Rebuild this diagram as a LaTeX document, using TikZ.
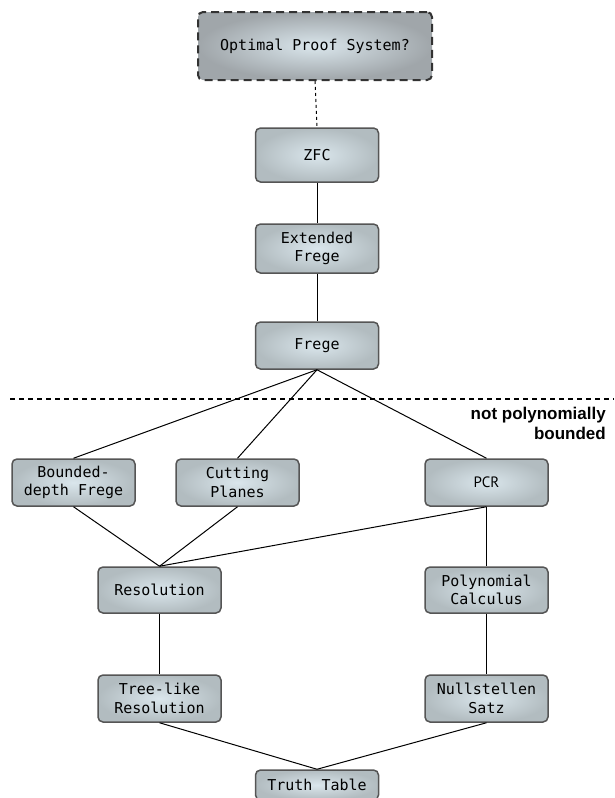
\documentclass[tikz,border=0pt]{standalone}
\usepackage{fontspec}
\setmonofont{DejaVu Sans Mono}
\newfontfamily\policepcr{PT Sans}
\newfontfamily\policenote{Liberation Sans}
\definecolor{bord}{RGB}{85,85,85}
\definecolor{centre}{RGB}{218,230,236}
\definecolor{tour}{RGB}{178,188,192}
\definecolor{tourfonce}{RGB}{160,166,170}
\begin{document}
\begin{tikzpicture}[x=1pt,y=-1pt]
		\tikzstyle{boite}=[draw=bord,line width=1.5pt,rounded corners=5pt,inner color=centre,outer color=tour,minimum width=123pt,minimum height=47pt,inner sep=0pt,align=center,font=\ttfamily\fontsize{15}{18.5}\selectfont]
		\tikzstyle{question}=[boite,draw=black!80,line width=2pt,dash pattern=on 8pt off 5pt,outer color=tourfonce,minimum width=234pt,minimum height=68pt]
		\tikzstyle{lien}=[line width=1pt]
		\tikzstyle{pointille}=[line width=1.5pt,dash pattern=on 5pt off 4pt]
		\tikzstyle{note}=[anchor=north east,align=right,inner sep=0pt,font=\policenote\bfseries\fontsize{17}{20}\selectfont]
		
		\def\ColonneA{73.5}
		\def\ColonneB{159.5}
		\def\ColonneC{237.5}
		\def\ColonneD{317}
		\def\ColonneE{486.5}
		
		\def\NiveauA{46}
		\def\NiveauB{155}
		\def\NiveauC{248.5}
		\def\NiveauD{345.5}
		\def\NiveauE{482.5}
		\def\NiveauF{590}
		\def\NiveauG{698.5}
		\def\NiveauH{785}
		
		\useasboundingbox (0,0) rectangle (614,798);
		
		\node[question] (Opt) at (315,\NiveauA) {Optimal Proof System?};
		\node[boite,minimum height=54pt] (Zfc) at (\ColonneD,\NiveauB) {ZFC};
		\node[boite,minimum height=49pt] (EFrege) at (\ColonneD,\NiveauC) {Extended\\Frege};
		\node[boite] (Frege) at (\ColonneD,\NiveauD) {Frege};
		\node[boite] (BdFrege) at (\ColonneA,\NiveauE) {Bounded-\\depth Frege};
		\node[boite] (CP) at (\ColonneC,\NiveauE) {Cutting\\Planes};
		\node[boite,font=\policepcr\fontsize{15}{18.5}\selectfont] (Pcr) at (\ColonneE,\NiveauE) {PCR};
		\node[boite,minimum height=46pt] (Res) at (\ColonneB,\NiveauF) {Resolution};
		\node[boite,minimum height=46pt] (PC) at (\ColonneE,\NiveauF) {Polynomial\\Calculus};
		\node[boite] (TRes) at (\ColonneB,\NiveauG) {Tree-like\\Resolution};
		\node[boite] (NS) at (\ColonneE,\NiveauG) {Nullstellen\\Satz};
		\node[boite,minimum height=30pt] (TT) at (\ColonneD,\NiveauH) {Truth Table};
		
		% frontiere
		\coordinate (FrontG) at (10,399);
		\coordinate (FrontD) at (614,399);
		\draw[pointille] (FrontG)--(FrontD);
		\node[note] (Borne) at (606,407) {not polynomially\\bounded};
		
		\draw[lien,dashed] (Opt.south)--(Zfc.north);
		\draw[lien] (Zfc)--(EFrege);
		\draw[lien] (EFrege)--(Frege);
		\draw[lien] (Frege.south)--(BdFrege.north);
		\draw[lien] (Frege.south)--(CP.north);
		\draw[lien] (Frege.south)--(Pcr.north);
		\draw[lien] (BdFrege.south)--(Res.north);
		\draw[lien] (CP.south)--(Res.north);
		\draw[lien] (Pcr.south)--(Res.north);
		\draw[lien] (Pcr.south)--(PC.north);
		\draw[lien] (Res)--(TRes);
		\draw[lien] (PC)--(NS);
		\draw[lien] (TRes.south)--(TT.north);
		\draw[lien] (NS.south)--(TT.north);
\end{tikzpicture}
\end{document}
